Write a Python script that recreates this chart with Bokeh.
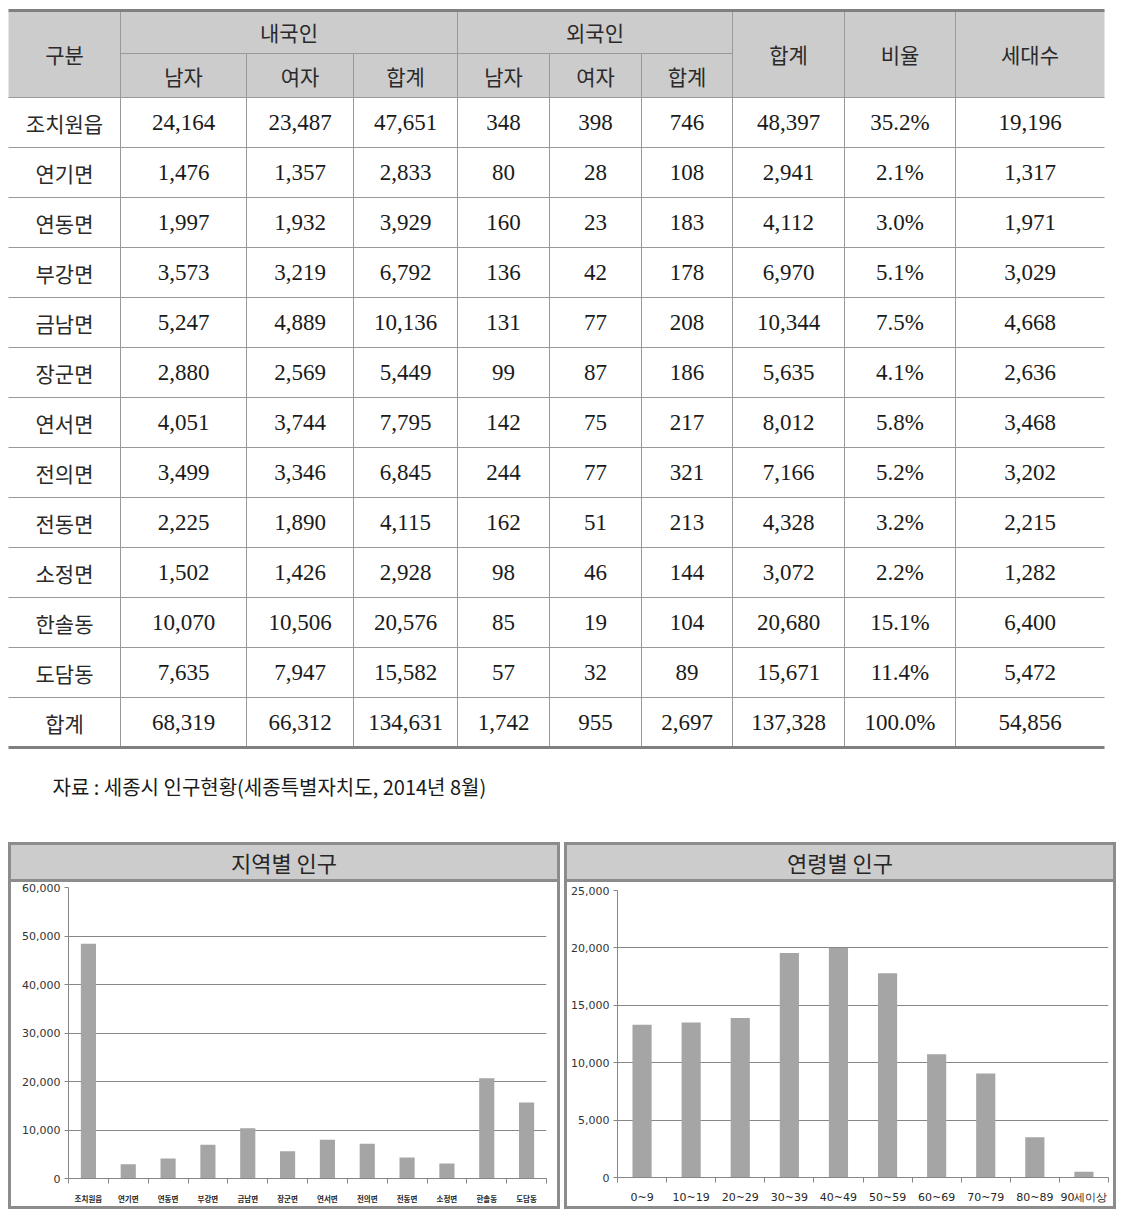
from bokeh.plotting import figure
from bokeh.models import ColumnDataSource, Range1d, FixedTicker, NumeralTickFormatter, Spacer, Div
from bokeh.layouts import column, row
from bokeh.core.properties import value
from bokeh.embed import file_html
from bokeh.resources import INLINE

# ---------------- data ----------------
regions = ["조치원읍", "연기면", "연동면", "부강면", "금남면", "장군면",
           "연서면", "전의면", "전동면", "소정면", "한솔동", "도담동"]
dom_male = [24164, 1476, 1997, 3573, 5247, 2880, 4051, 3499, 2225, 1502, 10070, 7635]
dom_female = [23487, 1357, 1932, 3219, 4889, 2569, 3744, 3346, 1890, 1426, 10506, 7947]
dom_total = [47651, 2833, 3929, 6792, 10136, 5449, 7795, 6845, 4115, 2928, 20576, 15582]
for_male = [348, 80, 160, 136, 131, 99, 142, 244, 162, 98, 85, 57]
for_female = [398, 28, 23, 42, 77, 87, 75, 77, 51, 46, 19, 32]
for_total = [746, 108, 183, 178, 208, 186, 217, 321, 213, 144, 104, 89]
grand_total = [48397, 2941, 4112, 6970, 10344, 5635, 8012, 7166, 4328, 3072, 20680, 15671]
ratio = ["35.2%", "2.1%", "3.0%", "5.1%", "7.5%", "4.1%", "5.8%", "5.2%", "3.2%", "2.2%", "15.1%", "11.4%"]
households = [19196, 1317, 1971, 3029, 4668, 2636, 3468, 3202, 2215, 1282, 6400, 5472]
sum_label = "합계"
sum_row = ["68,319", "66,312", "134,631", "1,742", "955", "2,697", "137,328", "100.0%", "54,856"]

head_top = ["구분", "내국인", "외국인", "합계", "비율", "세대수"]
head_sub = ["남자", "여자", "합계", "남자", "여자", "합계"]
source_note = "자료 : 세종시 인구현황(세종특별자치도, 2014년 8월)"

chart1_title = "지역별 인구"
chart1_ticks = [0, 10000, 20000, 30000, 40000, 50000, 60000]
chart2_title = "연령별 인구"
ages = ["0~9", "10~19", "20~29", "30~39", "40~49", "50~59", "60~69", "70~79", "80~89", "90세이상"]
age_pop = [13300, 13500, 13900, 19550, 20000, 17800, 10730, 9050, 3500, 490]
chart2_ticks = [0, 5000, 10000, 15000, 20000, 25000]

KR = "Noto Sans CJK KR"
SERIF = "Liberation Serif"
LINE = "#999999"
M = 8  # page margin

# ---------------- table ----------------
TW, TH = 1107, 830
t = figure(width=TW + M, height=TH + M, x_range=Range1d(-M, TW), y_range=Range1d(TH, -M),
           x_axis_location=None, y_axis_location=None, min_border=0,
           toolbar_location=None, output_backend="svg", outline_line_color=None)
t.grid.visible = False

cx = [0, 112, 238, 345, 449, 541, 633, 724, 836, 947, 1096]
y_top, y_mid, y_hb, rh = 2, 45, 89, 50
nrows = len(regions) + 1
y_bot = y_hb + rh * nrows
mid = [(cx[i] + cx[i + 1]) / 2 for i in range(10)]

t.quad(left=[cx[0]], right=[cx[-1]], top=[y_top], bottom=[y_hb], fill_color="#cccccc", line_color=None)

hx0, hx1, hy = [cx[1]], [cx[7]], [y_mid]
for i in range(nrows):
    hx0.append(cx[0]); hx1.append(cx[-1]); hy.append(y_hb + rh * i)
t.segment(x0=hx0, x1=hx1, y0=hy, y1=hy, line_color=LINE, line_width=1)
vx, vy0 = [], []
for i in range(1, 10):
    vx.append(cx[i])
    vy0.append(y_mid if i in (2, 3, 5, 6) else y_top)
t.segment(x0=vx, x1=vx, y0=vy0, y1=[y_bot] * len(vx), line_color=LINE, line_width=1)
t.segment(x0=[cx[0], cx[0]], x1=[cx[-1], cx[-1]], y0=[y_top, y_bot], y1=[y_top, y_bot],
          line_color="#808080", line_width=3)

kx, ky, kt = [], [], []
full_mid = (y_top + y_hb) / 2
kx += [mid[0], (cx[1] + cx[4]) / 2, (cx[4] + cx[7]) / 2, mid[7], mid[8], mid[9]]
ky += [full_mid, (y_top + y_mid) / 2, (y_top + y_mid) / 2, full_mid, full_mid, full_mid]
kt += head_top
for j, s in enumerate(head_sub):
    kx.append(mid[1 + j]); ky.append((y_mid + y_hb) / 2); kt.append(s)
for i, r in enumerate(regions + [sum_label]):
    kx.append(mid[0]); ky.append(y_hb + rh * i + rh / 2); kt.append(r)
t.text(x=kx, y=ky, text=kt, text_align="center", text_baseline="middle",
       text_font=value(KR), text_font_size="21px", text_color="#2a2a2a")

nx, ny, nt = [], [], []
for i in range(len(regions)):
    vals = [f"{dom_male[i]:,}", f"{dom_female[i]:,}", f"{dom_total[i]:,}",
            f"{for_male[i]:,}", f"{for_female[i]:,}", f"{for_total[i]:,}",
            f"{grand_total[i]:,}", ratio[i], f"{households[i]:,}"]
    for j, v in enumerate(vals):
        nx.append(mid[1 + j]); ny.append(y_hb + rh * i + rh / 2); nt.append(v)
for j, v in enumerate(sum_row):
    nx.append(mid[1 + j]); ny.append(y_hb + rh * len(regions) + rh / 2); nt.append(v)
t.text(x=nx, y=ny, text=nt, text_align="center", text_baseline="middle",
       text_font=value(SERIF), text_font_size="23px", text_color="#1a1a1a")

t.text(x=[44], y=[778], text=[source_note], text_align="left", text_baseline="middle",
       text_font=value(KR), text_font_size="20px", text_color="#1a1a1a")


# ---------------- charts ----------------
def chart_block(title, cats, vals, ticks, w, border, label_font, label_size, label_style,
                label_standoff, bar_w):
    n = len(cats)
    left, top, bottom, right = border

    head = Div(text=title, width=w, height=37, margin=0, styles={
        "background-color": "#cccccc",
        "border-bottom": "3px solid #8c8c8c",
        "box-sizing": "border-box",
        "text-align": "center",
        "font-family": "'Noto Sans CJK KR'",
        "font-size": "22px",
        "line-height": "34px",
        "color": "#262626",
        "overflow": "hidden",
    })

    p = figure(width=w, height=324, x_range=Range1d(0, n), y_range=Range1d(0, ticks[-1]),
               min_border_left=left, min_border_top=top, min_border_bottom=bottom,
               min_border_right=right, toolbar_location=None, output_backend="svg",
               outline_line_color=None)
    src = ColumnDataSource(dict(x=[i + 0.5 for i in range(n)], top=vals, cat=cats))
    p.vbar(x="x", top="top", width=bar_w, source=src, fill_color="#a5a5a5", line_color=None)

    p.xgrid.visible = False
    p.ygrid.grid_line_color = "#868686"
    p.ygrid.ticker = FixedTicker(ticks=ticks)

    ya = p.yaxis[0]
    ya.ticker = FixedTicker(ticks=ticks)
    ya.formatter = NumeralTickFormatter(format="0,0")
    ya.axis_line_color = "#868686"
    ya.major_tick_line_color = "#868686"
    ya.major_tick_out = 4
    ya.major_tick_in = 0
    ya.minor_tick_line_color = None
    ya.major_label_standoff = 4
    ya.major_label_text_font = "DejaVu Sans"
    ya.major_label_text_font_size = "11px"
    ya.major_label_text_color = "#333333"

    xa = p.xaxis[0]
    xa.ticker = FixedTicker(ticks=[i + 0.5 for i in range(n)], minor_ticks=list(range(n + 1)))
    xa.major_label_overrides = {i + 0.5: c for i, c in enumerate(cats)}
    xa.axis_line_color = "#868686"
    xa.major_tick_line_color = None
    xa.major_tick_out = 0
    xa.major_tick_in = 0
    xa.minor_tick_line_color = "#868686"
    xa.minor_tick_out = 5
    xa.minor_tick_in = 0
    xa.major_label_standoff = label_standoff
    xa.major_label_text_font = label_font
    xa.major_label_text_font_size = label_size
    xa.major_label_text_font_style = label_style
    xa.major_label_text_color = "#262626"

    return column(head, p, spacing=0, styles={"border": "3px solid #8c8c8c"})


c1 = chart_block(chart1_title, regions, grand_total, chart1_ticks, 546, (57, 5, 23, 11),
                 KR, "7.5px", "bold", 9, 0.38)
c2 = chart_block(chart2_title, ages, age_pop, chart2_ticks, 546, (50, 8, 29, 5),
                 "DejaVu Sans", "11px", "normal", 8, 0.39)

layout = column(t, row(Spacer(width=M - 4, height=10), c1, c2, spacing=4), spacing=4)
open("out.html", "w").write(file_html(layout, INLINE))
